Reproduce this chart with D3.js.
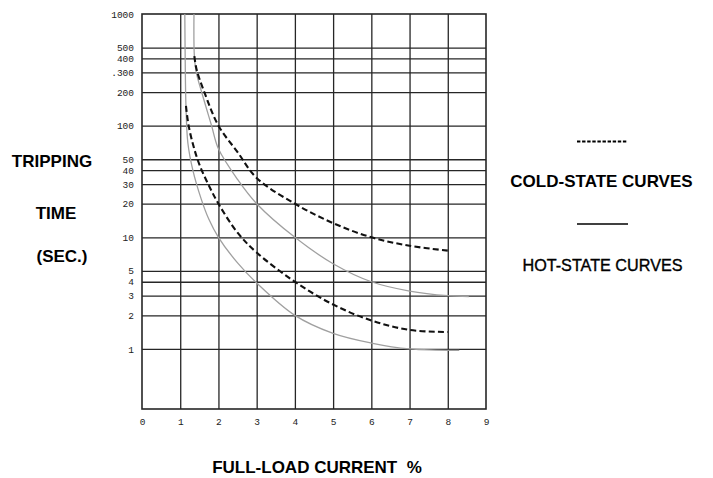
<!DOCTYPE html>
<html>
<head>
<meta charset="utf-8">
<script src="https://cdn.jsdelivr.net/npm/d3@7"></script>
<style>
  html, body { margin: 0; padding: 0; background: #fff; }
  svg { display: block; }
</style>
</head>
<body>
<svg id="chart" width="713" height="478"></svg>
<script>
// ---- data ----
const xTickValues = [0, 1, 2, 3, 4, 5, 6, 7, 8, 9];
const yTickValues = [1000, 500, 400, 300, 200, 100, 50, 40, 30, 20, 10, 5, 4, 3, 2, 1];
const yTickLabels = ["1000", "500", "400", ".300", "200", "100", "50", "40", "30", "20", "10", "5", "4", "3", "2", "1"];

// hot-state curves (solid, grey)
const hotLowerCurrent = [1.12, 1.13, 1.15, 1.2, 1.33, 1.55, 1.75, 2, 2.5, 3, 4, 5, 6, 7, 8.3];
const hotLowerTime    = [1000, 400, 150, 70, 40, 22, 14.5, 10, 5.9, 3.9, 2, 1.38, 1.13, 1.0, 0.97];
const hotUpperCurrent = [1.36, 1.37, 1.42, 1.56, 1.82, 2, 2.5, 3, 4, 5, 6, 7, 8, 8.55];
const hotUpperTime    = [1000, 420, 300, 200, 100, 62, 33, 20, 10, 5.8, 4.0, 3.3, 3.0, 2.95];

// cold-state curves (dashed, black)
const coldUpperCurrent = [1.37, 1.43, 1.63, 2, 2.5, 3, 4, 5, 6, 7, 8];
const coldUpperTime    = [420, 316, 200, 100, 58, 34, 20, 13.4, 10, 8.4, 7.6];
const coldLowerCurrent = [1.15, 1.22, 1.35, 1.5, 1.73, 2, 2.5, 3, 4, 5, 6, 7, 8];
const coldLowerTime    = [150, 100, 65, 45, 30, 20, 11, 7.3, 4, 2.5, 1.8, 1.48, 1.42];

// ---- layout ----
const svg = d3.select("#chart");
const plot = { left: 142, right: 486, top: 14, bottom: 409 };

const x = d3.scaleLinear().domain([0, 9]).range([plot.left, plot.right]);
const y = d3.scaleLog().domain([0.29, 1000]).range([plot.bottom, plot.top]);

const gridColor = "#262626";

// vertical grid via axis
const xGrid = d3.axisBottom(x)
  .tickValues(xTickValues.slice(1, -1))
  .tickSize(-(plot.bottom - plot.top))
  .tickFormat("");
svg.append("g")
  .attr("transform", `translate(0,${plot.bottom})`)
  .call(xGrid)
  .call(g => g.select(".domain").remove())
  .call(g => g.selectAll("line").attr("stroke", gridColor).attr("stroke-width", 1.3));

// horizontal grid via axis
const yGrid = d3.axisLeft(y)
  .tickValues(yTickValues.slice(1))
  .tickSize(-(plot.right - plot.left))
  .tickFormat("");
svg.append("g")
  .attr("transform", `translate(${plot.left},0)`)
  .call(yGrid)
  .call(g => g.select(".domain").remove())
  .call(g => g.selectAll("line").attr("stroke", gridColor).attr("stroke-width", 1.3));

// border
svg.append("rect")
  .attr("x", plot.left).attr("y", plot.top)
  .attr("width", plot.right - plot.left).attr("height", plot.bottom - plot.top)
  .attr("fill", "none").attr("stroke", gridColor).attr("stroke-width", 1.6);

// tick labels
const tickFont = "'Liberation Mono', 'DejaVu Sans Mono', monospace";
const yAxis = d3.axisLeft(y)
  .tickValues(yTickValues)
  .tickSize(0)
  .tickPadding(8)
  .tickFormat((d, i) => yTickLabels[i]);
svg.append("g")
  .attr("transform", `translate(${plot.left},0)`)
  .call(yAxis)
  .call(g => g.select(".domain").remove())
  .call(g => g.selectAll("text")
    .attr("font-family", tickFont).attr("font-size", 9.5).attr("fill", "#222"));

const xAxis = d3.axisBottom(x)
  .tickValues(xTickValues)
  .tickSize(0)
  .tickPadding(9)
  .tickFormat(d3.format("d"));
svg.append("g")
  .attr("transform", `translate(0,${plot.bottom})`)
  .call(xAxis)
  .call(g => g.select(".domain").remove())
  .call(g => g.selectAll("text")
    .attr("font-family", tickFont).attr("font-size", 9.5).attr("fill", "#222"));

// curves
const line = d3.line()
  .x(d => x(d[0]))
  .y(d => y(d[1]))
  .curve(d3.curveCatmullRom.alpha(0.5));

function pts(cx, ty) { return cx.map((c, i) => [c, ty[i]]); }

const hotStyle = { stroke: "#a0a0a0", width: 1.3, dash: null };
const coldStyle = { stroke: "#111", width: 2.1, dash: "6,3.2" };

[[hotLowerCurrent, hotLowerTime, hotStyle],
 [hotUpperCurrent, hotUpperTime, hotStyle],
 [coldUpperCurrent, coldUpperTime, coldStyle],
 [coldLowerCurrent, coldLowerTime, coldStyle]].forEach(([cx, ty, s]) => {
  svg.append("path")
    .datum(pts(cx, ty))
    .attr("d", line)
    .attr("fill", "none")
    .attr("stroke", s.stroke)
    .attr("stroke-width", s.width)
    .attr("stroke-dasharray", s.dash);
});

// titles
const titleFont = "'Liberation Sans', Arial, sans-serif";
const yTitle = [["TRIPPING", 52, 167], ["TIME", 56, 219], ["(SEC.)", 62, 262]];
yTitle.forEach(([t, cx, by]) => {
  svg.append("text").attr("x", cx).attr("y", by)
    .attr("text-anchor", "middle")
    .attr("font-family", titleFont).attr("font-weight", "bold").attr("font-size", 17)
    .attr("fill", "#000").text(t);
});

svg.append("text").attr("x", 317).attr("y", 473)
  .attr("text-anchor", "middle")
  .attr("font-family", titleFont).attr("font-weight", "bold").attr("font-size", 17)
  .attr("fill", "#000").style("white-space", "pre")
  .text("FULL-LOAD CURRENT  %");

// legend
svg.append("line")
  .attr("x1", 577).attr("x2", 628).attr("y1", 141.5).attr("y2", 141.5)
  .attr("stroke", "#000").attr("stroke-width", 2).attr("stroke-dasharray", "3.4,1.7");
svg.append("text").attr("x", 601.5).attr("y", 187)
  .attr("text-anchor", "middle")
  .attr("font-family", titleFont).attr("font-weight", "bold").attr("font-size", 17)
  .attr("fill", "#000").text("COLD-STATE CURVES");
svg.append("line")
  .attr("x1", 577).attr("x2", 628).attr("y1", 224).attr("y2", 224)
  .attr("stroke", "#000").attr("stroke-width", 1.6);
svg.append("text").attr("x", 602.5).attr("y", 270.5)
  .attr("text-anchor", "middle")
  .attr("font-family", titleFont).attr("font-size", 16.2)
  .attr("fill", "#000").attr("stroke", "#000").attr("stroke-width", 0.35)
  .text("HOT-STATE CURVES");
</script>
</body>
</html>
